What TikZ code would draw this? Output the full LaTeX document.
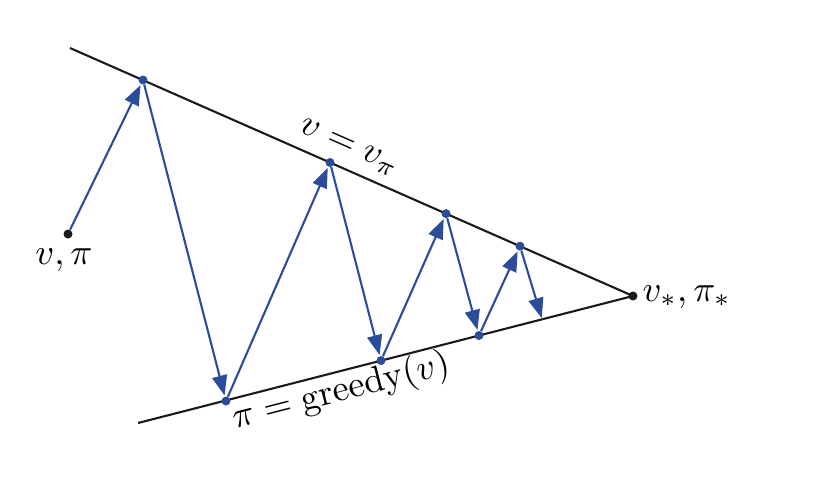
\documentclass[tikz,border=0pt]{standalone}
\usetikzlibrary{arrows.meta}
\definecolor{arrblue}{HTML}{2B4C9B}
\definecolor{linegray}{HTML}{1A1A1A}
\begin{document}
\begin{tikzpicture}[x=1pt,y=-1pt,
  bline/.style={draw=linegray,line width=2.1pt},
  bdot/.style={circle,fill=arrblue,inner sep=0pt,minimum size=9pt},
  kdot/.style={circle,fill=linegray,inner sep=0pt,minimum size=9pt},
  iter/.style={draw=arrblue,line width=2.1pt,-{Triangle[length=20pt,width=15pt]},shorten >=1pt},
  lbl/.style={inner sep=0pt,scale=3.65}]
\useasboundingbox (0,0) rectangle (816,498);
% guiding lines
\coordinate (U0) at (70,48);
\coordinate (L0) at (138,423);
\node[kdot] (star) at (633,296) {};
\draw[bline] (U0) -- (star.center);
\draw[bline] (L0) -- (star.center);
% points
\node[kdot] (p0) at (68,234) {};
\node[bdot] (u1) at (143,80) {};
\node[bdot] (l1) at (226,401) {};
\node[bdot] (u2) at (330,162.5) {};
\node[bdot] (l2) at (381,360.6) {};
\node[bdot] (u3) at (446,213.6) {};
\node[bdot] (l3) at (479,335.5) {};
\node[bdot] (u4) at (520,246.2) {};
\coordinate (l4) at (542,319);
% arrows
\draw[iter] (p0) -- (u1);
\draw[iter] (u1) -- (l1);
\draw[iter] (l1) -- (u2);
\draw[iter] (u2) -- (l2);
\draw[iter] (l2) -- (u3);
\draw[iter] (u3) -- (l3);
\draw[iter] (l3) -- (u4);
\draw[iter] (u4) -- (l4);
% labels
\node[lbl] (lp0) at (64,260) {$v,\pi$};
\node[lbl,anchor=west] (lstar) at (642,297) {$v_*,\pi_*$};
\node[lbl,rotate=-23.8] (lup) at (349,148) {$v=v_\pi$};
\node[lbl,rotate=14.4] (llow) at (341,392) {$\pi=\mathrm{greedy}(v)$};
\end{tikzpicture}
\end{document}
